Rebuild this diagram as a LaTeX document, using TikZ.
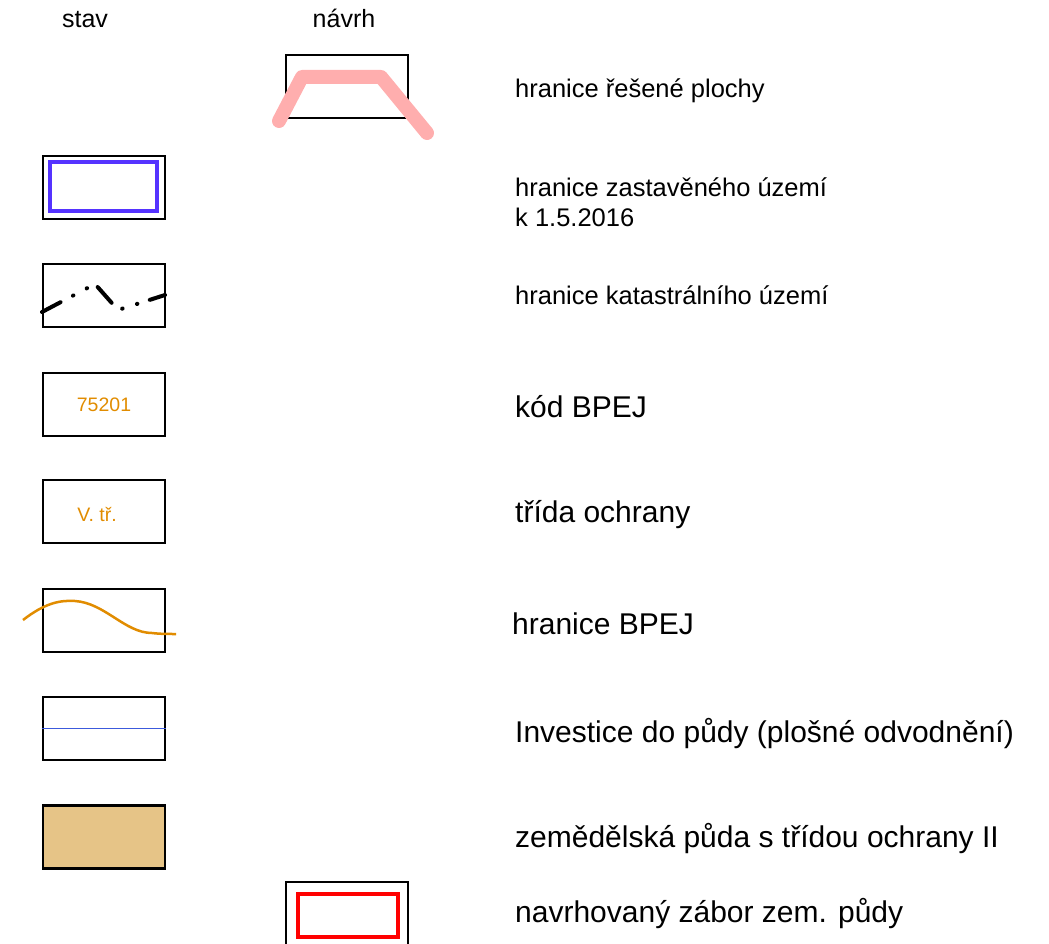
\documentclass[tikz,border=0pt]{standalone}
\usepackage{fontspec}
\setmainfont{Liberation Sans}
\definecolor{plocha}{RGB}{255,174,174}
\definecolor{zastav}{RGB}{85,51,255}
\definecolor{bpej}{RGB}{225,140,0}
\definecolor{odvod}{RGB}{60,90,220}
\definecolor{puda}{RGB}{230,196,135}
\definecolor{zabor}{RGB}{255,0,0}
\tikzset{
  legbox/.style={draw=black, line width=2.8pt, minimum width=122pt, minimum height=63pt, inner sep=0pt},
  boxtext/.style={text=bpej, font=\fontsize{19.5}{22}\selectfont},
  small/.style={anchor=base west, inner sep=0pt, font=\fontsize{25.5}{30}\selectfont},
  big/.style={anchor=base west, inner sep=0pt, font=\fontsize{30}{34}\selectfont}
}
\begin{document}
\begin{tikzpicture}[x=1pt, y=-1pt]
        \useasboundingbox (0,0) rectangle (1049,944);

        \node[anchor=base, inner sep=0pt, font=\fontsize{25}{30}\selectfont] (stav) at (85,28) {stav};
        \node[anchor=base, inner sep=0pt, font=\fontsize{25}{30}\selectfont] (navrh) at (344,28) {návrh};

        \node[legbox] (resena) at (347,86.5) {};
        \draw[plocha, line width=14pt, line cap=round, line join=round] (279,121) -- (302,77) -- (381,77) -- (427,133);
        \node[small] (t-resena) at (515,98) {hranice řešené plochy};

        \node[legbox] (zastavene) at (104,187.5) {};
        \draw[zastav, line width=3.5pt] (50,162) rectangle (157,211);
        \node[small, align=left] (t-zastavene) at (515,226) {hranice zastavěného území\\k 1.5.2016};

        \node[legbox] (katastr) at (104,295.5) {};
        \draw[black, line width=4pt, line cap=round, dash pattern=on 21pt off 14pt on 0.5pt off 15pt on 0.5pt off 13pt] (42,312) -- (95,284) -- (118,310) -- (165,295);
        \node[small] (t-katastr) at (515,304) {hranice katastrálního území};

        \node[legbox, boxtext] (kod) at (104,404.5) {75201};
        \node[big] (t-kod) at (515,417) {kód BPEJ};

        \node[legbox] (trida) at (104,511.5) {};
        \node[boxtext, inner sep=0pt] (v-trida) at (97,514) {V. tř.};
        \node[big] (t-trida) at (515,522) {třída ochrany};

        \node[legbox] (hranice-bpej) at (104,620.5) {};
        \draw[bpej, line width=2.5pt] (23,620) .. controls (45,603) and (60,600) .. (75,601) .. controls (105,603) and (125,633) .. (152,633) .. controls (160,634) and (168,634) .. (176,634);
        \node[big] (t-hranice-bpej) at (512,634) {hranice BPEJ};

        \node[legbox] (investice) at (104,728.5) {};
        \draw[odvod, line width=1.3pt] (investice.west) -- (investice.east);
        \node[big] (t-investice) at (515,742) {Investice do půdy (plošné odvodnění)};

        \node[legbox, fill=puda, line width=2.2pt] (zemedelska) at (104,837) {};
        \node[big] (t-zemedelska) at (515,847) {zemědělská půda s třídou ochrany II};

        \node[legbox] (navrh-zabor) at (347,913.5) {};
        \draw[zabor, line width=3.5pt] (298,894) rectangle (398,937);
        \node[big] (t-zabor) at (515,922) {navrhovaný zábor zem. půdy};
    \end{tikzpicture}
\end{document}
